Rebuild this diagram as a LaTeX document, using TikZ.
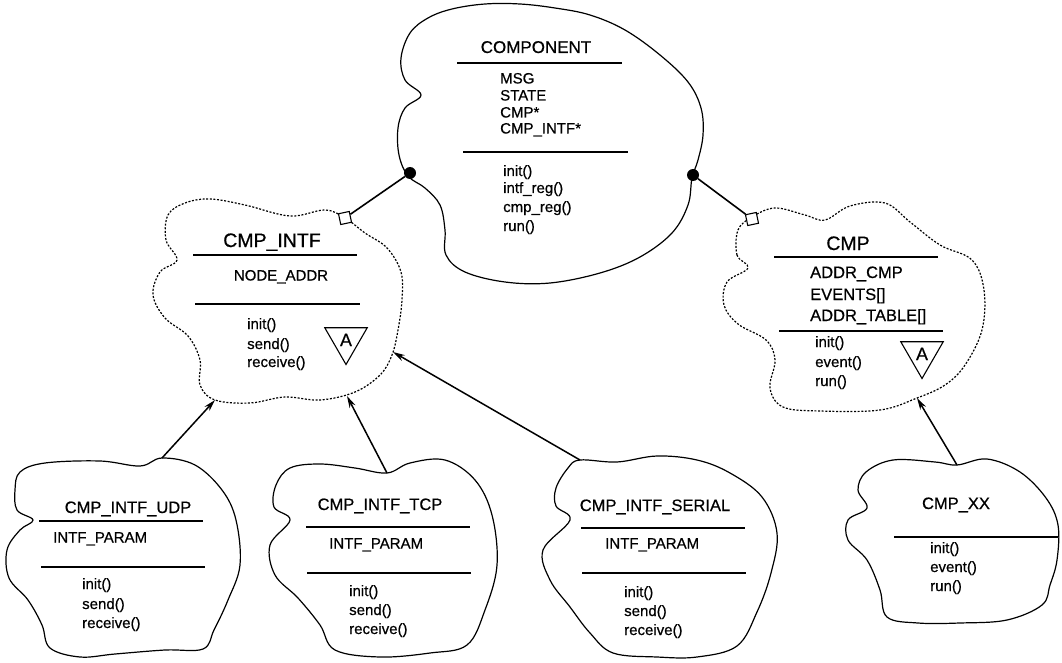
\documentclass[tikz,border=0pt]{standalone}
\usepackage{fontspec}
\setmainfont{Liberation Sans}[FakeBold=0.6]
\usetikzlibrary{arrows.meta,shapes.geometric}
\tikzset{
  cloudline/.style={line width=1.2pt, line join=round},
  dashcloud/.style={line width=1.2pt, line join=round, dash pattern=on 2pt off 1.6pt},
  sep/.style={line width=1.8pt},
  ttl/.style={inner sep=0pt, anchor=base, font=\fontsize{16.5}{18}\selectfont},
  bigttl/.style={inner sep=0pt, anchor=base, font=\fontsize{19.5}{22}\selectfont},
  itm/.style={inner sep=0pt, anchor=base west, font=\fontsize{15}{17}\selectfont},
  bigitm/.style={inner sep=0pt, anchor=base west, font=\fontsize{16.5}{18}\selectfont},
  assocdot/.style={circle, fill, inner sep=0pt, minimum size=12pt},
  port/.style={draw, fill=white, line width=1.1pt, inner sep=0pt, minimum size=11pt, rotate=12},
  link/.style={line width=1.6pt},
  inherit/.style={line width=1.5pt, -{Stealth[length=12pt,width=6.5pt]}},
  abstr/.style={draw, line width=1.1pt, regular polygon, regular polygon sides=3,
    shape border rotate=180, inner sep=0pt, minimum size=49pt,
    font=\fontsize{18}{20}\selectfont}
}
\begin{document}
\begin{tikzpicture}[x=1pt, y=-1pt]
\useasboundingbox (0,0) rectangle (1062,663);

% ---------- class clouds ----------
% COMPONENT
\draw[cloudline] plot[smooth cycle, tension=0.6] coordinates {
 (421,95) (405,80) (401,58) (410,33) (428,18) (452,9) (485,4) (520,4) (555,8)
 (590,15) (625,30) (660,55) (688,82) (701,108) (703,135) (698,160) (692,178)
 (688,205) (672,233) (640,257) (600,273) (550,283) (505,282) (465,272)
 (446,255) (445,230) (440,205) (425,188) (408,176) (399,155) (398,128) (405,108)};
% CMP_INTF (abstract, dashed)
\draw[dashcloud] plot[smooth cycle, tension=0.6] coordinates {
 (177,260) (166,240) (168,215) (185,203) (210,199) (245,205) (290,216) (325,210)
 (345,218) (365,233) (387,248) (401,272) (402,300) (398,330) (392,355) (380,375)
 (355,392) (320,400) (285,397) (250,403) (215,400) (200,385) (200,360) (188,336)
 (165,318) (153,295) (160,272)};
% CMP (abstract, dashed)
\draw[dashcloud] plot[smooth cycle, tension=0.6] coordinates {
 (748,268) (737,255) (738,230) (752,217) (775,208) (805,215) (825,220) (850,206)
 (885,203) (910,222) (940,245) (972,260) (984,290) (982,330) (965,365) (945,385)
 (917,398) (880,410) (820,411) (783,407) (770,388) (775,360) (766,340) (738,324)
 (724,305) (727,282)};
% CMP_INTF_UDP
\draw[cloudline] plot[smooth cycle, tension=0.6] coordinates {
 (33,520) (17,510) (15,490) (20,472) (45,463) (100,461) (140,466) (162,458)
 (195,465) (222,490) (236,520) (240,565) (228,600) (214,630) (203,649) (165,650)
 (115,654) (80,657) (50,648) (42,625) (28,600) (9,578) (7,550) (20,530)};
% CMP_INTF_TCP
\draw[cloudline] plot[smooth cycle, tension=0.6] coordinates {
 (290,520) (274,507) (276,485) (290,468) (320,464) (355,468) (387,473) (410,463)
 (445,460) (475,480) (492,515) (497,565) (485,610) (467,645) (430,653) (380,657)
 (335,650) (320,625) (298,598) (275,575) (270,545)};
% CMP_INTF_SERIAL
\draw[cloudline] plot[smooth cycle, tension=0.6] coordinates {
 (570,520) (556,506) (556,488) (568,468) (580,460) (617,462) (657,456) (697,460)
 (730,473) (762,497) (777,533) (771,573) (757,612) (737,646) (697,657) (657,657)
 (613,653) (590,633) (570,607) (550,580) (543,550)};
% CMP_XX
\draw[cloudline] plot[smooth cycle, tension=0.6] coordinates {
 (867,508) (858,490) (866,472) (893,460) (935,462) (957,465) (987,459) (1020,472)
 (1046,498) (1058,525) (1057,560) (1050,585) (1042,605) (1007,620) (960,623)
 (918,623) (887,617) (880,590) (867,560) (848,540) (848,520)};

% ---------- COMPONENT contents ----------
\node[ttl, font=\fontsize{17}{19}\selectfont] (compT) at (536,53) {COMPONENT};
\draw[sep] (457,63) -- (622,63);
\node[itm] (compA1) at (500,83.5) {MSG};
\node[itm] (compA2) at (500,100.5) {STATE};
\node[itm] (compA3) at (500,117.5) {CMP*};
\node[itm] (compA4) at (500,133.5) {CMP\_INTF*};
\draw[sep] (463,152) -- (628,152);
\node[itm] (compM1) at (503,176) {init()};
\node[itm] (compM2) at (503,193) {intf\_reg()};
\node[itm] (compM3) at (503,212) {cmp\_reg()};
\node[itm] (compM4) at (503,231) {run()};

% ---------- CMP_INTF contents ----------
\node[bigttl] (intfT) at (272,247) {CMP\_INTF};
\draw[sep] (193,255) -- (357,255);
\node[itm, anchor=base] (intfA1) at (281,280.5) {NODE\_ADDR};
\draw[sep] (195,304) -- (360,304);
\node[itm] (intfM1) at (247,329) {init()};
\node[itm] (intfM2) at (247,349) {send()};
\node[itm] (intfM3) at (247,367) {receive()};
\node[abstr] (intfAbs) at (346,340) {A};

% ---------- CMP contents ----------
\node[bigttl] (cmpT) at (848,250) {CMP};
\draw[sep] (774,257) -- (938,257);
\node[bigitm] (cmpA1) at (810,278) {ADDR\_CMP};
\node[bigitm] (cmpA2) at (810,300) {EVENTS[]};
\node[bigitm] (cmpA3) at (810,321) {ADDR\_TABLE[]};
\draw[sep] (779,331) -- (943,331);
\node[itm] (cmpM1) at (815,347) {init()};
\node[itm] (cmpM2) at (815,367) {event()};
\node[itm] (cmpM3) at (815,386) {run()};
\node[abstr] (cmpAbs) at (922,354) {A};

% ---------- CMP_INTF_UDP contents ----------
\node[ttl] (udpT) at (128,513) {CMP\_INTF\_UDP};
\draw[sep] (39,521) -- (203,521);
\node[itm] (udpA1) at (53,542.5) {INTF\_PARAM};
\draw[sep] (41,567) -- (205,567);
\node[itm] (udpM1) at (82,589) {init()};
\node[itm] (udpM2) at (82,609) {send()};
\node[itm] (udpM3) at (82,628) {receive()};

% ---------- CMP_INTF_TCP contents ----------
\node[ttl] (tcpT) at (380,510) {CMP\_INTF\_TCP};
\draw[sep] (306,527) -- (470,527);
\node[itm] (tcpA1) at (329,548.5) {INTF\_PARAM};
\draw[sep] (307,573) -- (471,573);
\node[itm] (tcpM1) at (349,596) {init()};
\node[itm] (tcpM2) at (349,615) {send()};
\node[itm] (tcpM3) at (349,634) {receive()};

% ---------- CMP_INTF_SERIAL contents ----------
\node[ttl] (serT) at (655,511) {CMP\_INTF\_SERIAL};
\draw[sep] (581,528) -- (745,528);
\node[itm] (serA1) at (605,548.5) {INTF\_PARAM};
\draw[sep] (582,573) -- (746,573);
\node[itm] (serM1) at (624,597) {init()};
\node[itm] (serM2) at (624,616) {send()};
\node[itm] (serM3) at (624,635) {receive()};

% ---------- CMP_XX contents ----------
\node[ttl] (xxT) at (956,509) {CMP\_XX};
\draw[sep] (894,537) -- (1058,537);
\node[itm] (xxM1) at (930,553) {init()};
\node[itm] (xxM2) at (930,572) {event()};
\node[itm] (xxM3) at (930,591) {run()};

% ---------- aggregation links ----------
\node[assocdot] (dotL) at (410,173) {};
\node[port] (portL) at (345,218) {};
\draw[link] (dotL) -- (portL);
\node[assocdot] (dotR) at (693,175) {};
\node[port] (portR) at (752,219) {};
\draw[link] (dotR) -- (portR);

% ---------- inheritance arrows ----------
\coordinate (udpTop) at (162,458);
\coordinate (tcpTop) at (387,473);
\coordinate (serTop) at (580,460);
\coordinate (xxTop) at (957,465);
\coordinate (intfBL) at (215,400);
\coordinate (intfB) at (347,396);
\coordinate (intfR) at (393,352);
\coordinate (cmpB) at (917,398);
\draw[inherit] (udpTop) -- (intfBL);
\draw[inherit] (tcpTop) -- (intfB);
\draw[inherit] (serTop) -- (intfR);
\draw[inherit] (xxTop) -- (cmpB);
\end{tikzpicture}
\end{document}
